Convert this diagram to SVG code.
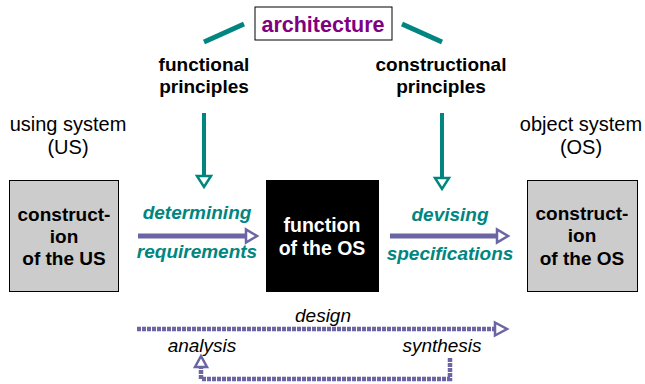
<svg xmlns="http://www.w3.org/2000/svg" width="645" height="384" viewBox="0 0 645 384">
<style>
text{font-family:"Liberation Sans",Arial,sans-serif;text-anchor:middle}
.b{font-weight:bold;font-size:19px;fill:#000}
.r{font-size:20px;fill:#000}
.w{font-weight:bold;font-size:19.5px;fill:#fff}
.t{font-weight:bold;font-style:italic;font-size:19px;fill:#00857f}
.i{font-style:italic;font-size:19px;fill:#000}
.teal{stroke:#00857f;fill:none}
.pur{stroke:#6b66a3;fill:none}
.head-t{fill:#fff;stroke:#00857f;stroke-width:2.5;stroke-linejoin:miter}
.head-p{fill:#fff;stroke:#6b66a3;stroke-width:2.5}
.dot{stroke:#6b66a3;stroke-width:4.5;fill:none;stroke-dasharray:4 1}
.box{fill:#cccccc;stroke:#000;stroke-width:1}
</style>
<rect width="645" height="384" fill="#fff"/>
<g id="architecture">
<rect x="255" y="7" width="137" height="33" fill="#fff" stroke="#000" stroke-width="1"/>
<text x="323" y="32" style="font-weight:bold;font-size:21.5px;fill:#800080">architecture</text>
</g>
<g id="functional-principles">
<text class="b" x="204" y="71">functional</text>
<text class="b" x="204" y="93">principles</text>
</g>
<g id="constructional-principles">
<text class="b" x="441" y="71">constructional</text>
<text class="b" x="441" y="93">principles</text>
</g>
<g id="using-system">
<text class="r" x="68" y="131">using system</text>
<text class="r" x="68" y="154">(US)</text>
</g>
<g id="object-system">
<text class="r" x="581" y="131">object system</text>
<text class="r" x="581" y="154">(OS)</text>
</g>
<g id="construction-us">
<rect class="box" x="9.5" y="180.5" width="109" height="111"/>
<text class="b" x="64" y="221">construct-</text>
<text class="b" x="64" y="243">ion</text>
<text class="b" x="64" y="265">of the US</text>
</g>
<g id="function-os">
<rect x="266" y="180" width="113" height="112" fill="#000"/>
<text class="w" x="322" y="232">function</text>
<text class="w" x="322" y="255">of the OS</text>
</g>
<g id="construction-os">
<rect class="box" x="527.5" y="180.5" width="110" height="111"/>
<text class="b" x="582" y="220">construct-</text>
<text class="b" x="582" y="242">ion</text>
<text class="b" x="582" y="265">of the OS</text>
</g>
<g id="connectors">
<line class="teal" x1="204" y1="42" x2="244" y2="24" stroke-width="5"/>
<line class="teal" x1="402" y1="24" x2="442" y2="42" stroke-width="5"/>
<line class="teal" x1="204" y1="113" x2="204" y2="176" stroke-width="4"/>
<polygon class="head-t" points="197,176 211,176 204,187"/>
<line class="teal" x1="442" y1="113" x2="442" y2="178" stroke-width="4"/>
<polygon class="head-t" points="435,178 449,178 442,189"/>
<line class="pur" x1="138" y1="236" x2="246" y2="236" stroke-width="5"/>
<polygon class="head-p" points="246,229.5 246,242.5 257,236"/>
<line class="pur" x1="390" y1="236" x2="497" y2="236" stroke-width="5"/>
<polygon class="head-p" points="497,229.5 497,242.5 508,236"/>
<line class="dot" x1="137" y1="329" x2="495" y2="329"/>
<polygon class="head-p" points="495,322.5 495,335.5 507,329"/>
<polyline class="dot" points="450,358 450,379 201,379 201,367"/>
<polygon class="head-p" points="195,367 207,367 201,356"/>
</g>
<g id="labels">
<text class="t" x="197" y="219">determining</text>
<text class="t" x="197" y="258">requirements</text>
<text class="t" x="450" y="221">devising</text>
<text class="t" x="450" y="260">specifications</text>
<text class="i" x="323" y="322">design</text>
<text class="i" x="202" y="352">analysis</text>
<text class="i" x="442" y="352">synthesis</text>
</g>
</svg>
